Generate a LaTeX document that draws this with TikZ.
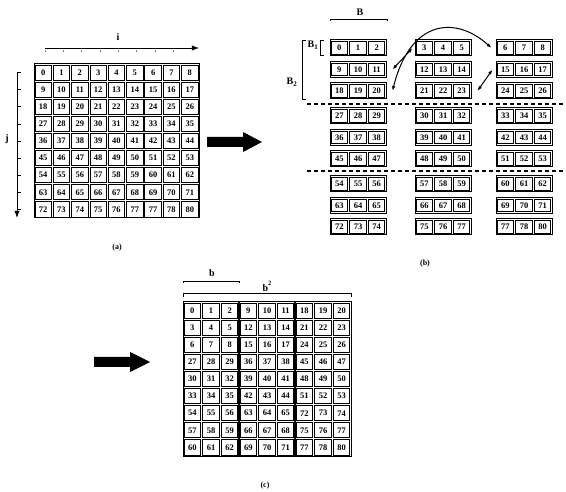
\documentclass[tikz,border=0pt]{standalone}
\usepackage{fontspec}
\setmainfont{Liberation Serif}
\usetikzlibrary{arrows.meta,positioning}
\newcommand{\cellno}[1]{\ifnum#1=78 77\else\ifnum#1=79 78\else#1\fi\fi}

\begin{document}
\begin{tikzpicture}[x=1pt,y=-1pt,>=Latex,
cell/.style={draw,line width=0.9pt,inner sep=0pt,minimum width=16.4pt,minimum height=15.2pt,font=\bfseries\fontsize{8.5}{8.5}\selectfont},
bcell/.style={cell,minimum width=16.2pt,minimum height=12.8pt},
triple/.style={draw,line width=1pt,inner sep=0pt,minimum width=56pt,minimum height=16pt},
lbl/.style={font=\bfseries\fontsize{10}{10}\selectfont,inner sep=0pt},
caption/.style={font=\bfseries\fontsize{8}{8}\selectfont,inner sep=0pt},
swap/.style={<->,line width=1pt,>={Latex[length=5pt,width=3.5pt]}}]
\useasboundingbox (0,0) rectangle (566,492);

% (a) the 9x9 array
\node[lbl] (i) at (118,37) {i};
\coordinate (i0) at (45,48); \coordinate (i1) at (199,48);
\draw[->,line width=0.9pt] (i0) -- (i1);
\foreach \c in {0,...,7} \draw[line width=0.3pt,gray] ({44.7+18.33*\c},50) -- ++(0,2.5);
\node[lbl] (j) at (7,139) {j};
\coordinate (j0) at (17,73); \coordinate (j1) at (17,218);
\draw[->,line width=0.9pt] (j0) -- (j1);
\foreach \r in {0,...,8} \draw[line width=0.7pt] (17,{72.6+17.11*\r}) -- ++(4,0);
\foreach \r in {0,...,8}{\foreach \c in {0,...,8}{
  \pgfmathtruncatemacro\n{9*\r+\c}
  \node[cell] (a-\r-\c) at ({34+18.33*(\c+0.5)},{64+17.11*(\r+0.5)}) {\cellno{\n}};}}
\draw[line width=1pt] (34,64) rectangle (199,218);
\node[caption] (capa) at (117,248) {(a)};

\fill (207,137) -- (243,137) -- (243,132) -- (262,142) -- (243,152) -- (243,147) -- (207,147) -- cycle;

% (b) rows cut into blocks of B
\node[lbl] (B) at (360,12) {B};
\draw[line width=0.7pt] (330,21) -- (330,19) -- (387,19) -- (387,21);
\node[lbl] (B1) at (313,45) {B$_{\mathbf{1}}$};
\draw[line width=0.9pt] (324,40) -- (320,40) -- (320,55) -- (324,55);
\node[lbl] (B2) at (292,82) {B$_{\mathbf{2}}$};
\draw[line width=0.9pt] (306,40) -- (302,40) -- (302,99) -- (306,99);
\foreach \r in {0,...,8}{\foreach \g/\xc in {0/358,1/443,2/524}{
  \pgfmathsetmacro\yc{48+21.5*\r+3.5*floor(\r/3)}
  \node[triple] (t-\r-\g) at (\xc,\yc) {};
  \foreach \k in {0,1,2}{
    \pgfmathtruncatemacro\n{9*\r+3*\g+\k}
    \node[bcell] (b-\r-\g-\k) at ({\xc+18.67*(\k-1)},\yc) {\cellno{\n}};}}}
\draw[line width=1.4pt,dash pattern=on 4pt off 3pt] (307,104) -- (566,104);
\draw[line width=1.4pt,dash pattern=on 4pt off 3pt] (307,171) -- (566,171);
\draw[swap] ([xshift=6pt]t-1-0.east) -- ([xshift=-2pt]t-0-1.west);
\draw[swap] ([xshift=6pt]t-2-0.east) .. controls (410,20) and (455,15) .. ([xshift=-4pt]t-0-2.west);
\draw[swap] ([xshift=6pt]t-2-1.east) -- ([xshift=-3pt]t-1-2.west);
\node[caption] (capb) at (425,264) {(b)};

% (c) result after the block swaps
\fill (94,357) -- (130,357) -- (130,352) -- (150,362) -- (130,372) -- (130,367) -- (94,367) -- cycle;
\node[lbl] (b) at (212,273) {b};
\draw[line width=0.7pt] (183,283) -- (183,281) -- (239,281) -- (239,283);
\node[lbl] (bb) at (267,286) {b\raisebox{6pt}{\fontsize{6.5}{6.5}\selectfont 2}};
\draw[line width=0.9pt] (183,297) -- (183,293) -- (351,293) -- (351,297);
\foreach \r in {0,...,8}{\foreach \c in {0,...,8}{
  \pgfmathtruncatemacro\n{9*(3*floor(\r/3)+floor(\c/3))+3*mod(\r,3)+mod(\c,3)}
  \node[cell] (c-\r-\c) at ({183+18.67*(\c+0.5)},{302+17.11*(\r+0.5)}) {\cellno{\n}};}}
\draw[line width=1pt] (183,302) rectangle (351,456);
\draw[line width=1.4pt] (239,302) -- (239,456) (295,302) -- (295,456);
\node[caption] (capc) at (265,486) {(c)};
\end{tikzpicture}
\end{document}
